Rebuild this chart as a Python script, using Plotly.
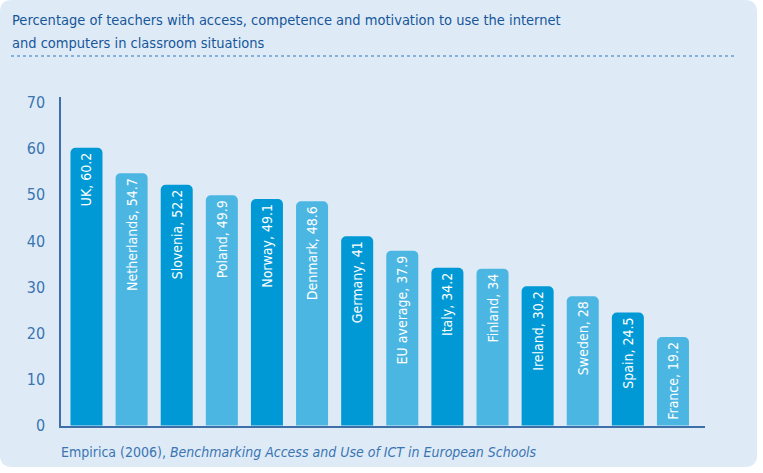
import plotly.graph_objects as go

countries = ["UK", "Netherlands", "Slovenia", "Poland", "Norway", "Denmark", "Germany",
             "EU average", "Italy", "Finland", "Ireland", "Sweden", "Spain", "France"]
values = [60.2, 54.7, 52.2, 49.9, 49.1, 48.6, 41, 37.9, 34.2, 34, 30.2, 28, 24.5, 19.2]
value_labels = ["60.2", "54.7", "52.2", "49.9", "49.1", "48.6", "41", "37.9", "34.2", "34",
                "30.2", "28", "24.5", "19.2"]
y_ticks = [0, 10, 20, 30, 40, 50, 60, 70]
title_lines = ["Percentage of teachers with access, competence and motivation to use the internet",
               "and computers in classroom situations"]

DARK = "#0099d5"
LIGHT = "#4cb6e3"
BG = "#deebf7"
AXIS = "#3d6fa9"
FONT = "DejaVu Sans Condensed"

W, H = 763, 473
L, R, T, B = 61, 58, 97, 47
PW, PH = W - L - R, H - T - B

def px(x):
    return (x - L) / PW

def py(y):
    return (H - B - y) / PH

colors = [DARK if i % 2 == 0 else LIGHT for i in range(len(countries))]
texts = [f"{c}, {v}" for c, v in zip(countries, value_labels)]

fig = go.Figure(go.Bar(
    x=list(range(len(countries))), y=values,
    marker=dict(color=colors, line=dict(width=0), cornerradius=5),
    width=0.71,
    text=texts, textposition="inside", insidetextanchor="end", textangle=-90,
    textfont=dict(family=FONT, size=14, color="white"),
    constraintext="none", hoverinfo="skip",
))

x0, y0, x1, y1, r = 0, 0, 757, 467, 12
path = (f"M {px(x0 + r)} {py(y0)} L {px(x1 - r)} {py(y0)} Q {px(x1)} {py(y0)} {px(x1)} {py(y0 + r)} "
        f"L {px(x1)} {py(y1 - r)} Q {px(x1)} {py(y1)} {px(x1 - r)} {py(y1)} "
        f"L {px(x0 + r)} {py(y1)} Q {px(x0)} {py(y1)} {px(x0)} {py(y1 - r)} "
        f"L {px(x0)} {py(y0 + r)} Q {px(x0)} {py(y0)} {px(x0 + r)} {py(y0)} Z")

annotations = []
for line, yc in zip(title_lines, [20, 43]):
    annotations.append(dict(text=line, xref="paper", yref="paper", x=px(10), y=py(yc),
                            xanchor="left", yanchor="middle", showarrow=False,
                            font=dict(family=FONT, size=14.5, color="#17569a")))
annotations.append(dict(
    text="Empirica (2006), <i>Benchmarking Access and Use of ICT in European Schools</i>",
    xref="paper", yref="paper", x=px(59), y=py(452), xanchor="left", yanchor="middle",
    showarrow=False, font=dict(family=FONT, size=14, color="#3b74b2")))

fig.update_layout(
    width=W, height=H,
    margin=dict(l=L, r=R, t=T, b=B, pad=0),
    paper_bgcolor="white", plot_bgcolor="rgba(0,0,0,0)",
    showlegend=False,
    font=dict(family=FONT, color="#1d5b9c"),
    xaxis=dict(range=[-0.565, 13.71], showticklabels=False, showgrid=False, zeroline=False,
               showline=True, linecolor=AXIS, linewidth=1.5, ticks=""),
    yaxis=dict(range=[-0.1, 71.2], tickvals=y_ticks, showgrid=False, zeroline=False,
               showline=True, linecolor=AXIS, linewidth=1.5, ticks="", ticklabelstandoff=11,
               tickfont=dict(family=FONT, size=16, color="#3b74b2")),
    shapes=[
        dict(type="path", path=path, xref="paper", yref="paper", fillcolor=BG,
             line=dict(width=0), layer="below"),
        dict(type="line", xref="paper", yref="paper", x0=px(11), x1=px(735), y0=py(56), y1=py(56),
             line=dict(color="#2f78c0", width=1.2, dash="dot")),
    ],
    annotations=annotations,
)

fig.write_html("out.html", config={"displayModeBar": False},
               post_script="document.body.style.margin='0';document.body.style.overflow='hidden';")
